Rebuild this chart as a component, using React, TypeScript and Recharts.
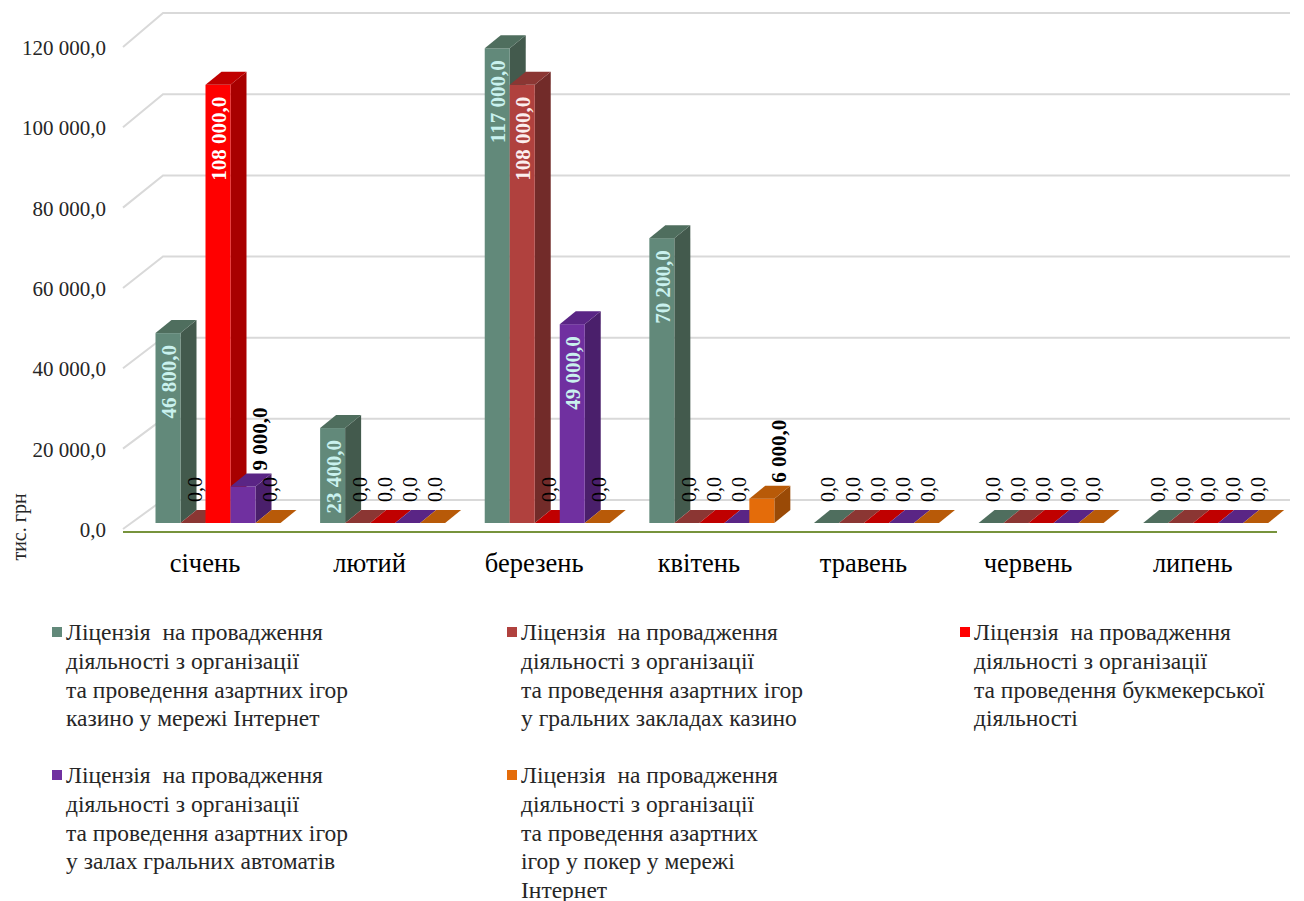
import React from 'react';
import { BarChart, Bar, XAxis, YAxis, CartesianGrid, LabelList } from 'recharts';

const months = ['січень', 'лютий', 'березень', 'квітень', 'травень', 'червень', 'липень'];

const seriesNames = [
  'Ліцензія  на провадження\nдіяльності з організації\nта проведення азартних ігор\nказино у мережі Інтернет',
  'Ліцензія  на провадження\nдіяльності з організації\nта проведення азартних ігор\nу гральних закладах казино',
  'Ліцензія  на провадження\nдіяльності з організації\nта проведення букмекерської\nдіяльності',
  'Ліцензія  на провадження\nдіяльності з організації\nта проведення азартних ігор\nу залах гральних автоматів',
  'Ліцензія  на провадження\nдіяльності з організації\nта проведення азартних\nігор у покер у мережі\nІнтернет',
];

const onlineCasino = [46800, 23400, 117000, 70200, 0, 0, 0];
const landCasino = [0, 0, 108000, 0, 0, 0, 0];
const bookmaker = [108000, 0, 0, 0, 0, 0, 0];
const slotHalls = [9000, 0, 49000, 0, 0, 0, 0];
const onlinePoker = [0, 0, 0, 6000, 0, 0, 0];

const yTicks = [0, 20000, 40000, 60000, 80000, 100000, 120000];
const yAxisTitle = 'тис. грн';

const seriesValues = [onlineCasino, landCasino, bookmaker, slotHalls, onlinePoker];

const styles = [
  { front: '#62897a', side: '#435a4d', top: '#4f6e5e', label: '#c9f1ee', legend: '#62897a' },
  { front: '#b0413e', side: '#722b29', top: '#8b3633', label: '#fbeeee', legend: '#b0413e' },
  { front: '#ff0000', side: '#a80000', top: '#c00000', label: '#ffffff', legend: '#ff0000' },
  { front: '#7030a0', side: '#4a1f6b', top: '#5a2585', label: '#c9f1ee', legend: '#7030a0' },
  { front: '#e46c0a', side: '#9a4a06', top: '#b85a08', label: '#ffffff', legend: '#e46c0a' },
];

const data = months.map((m, i) => {
  const row: Record<string, any> = { month: m };
  seriesValues.forEach((arr, s) => {
    row['s' + s] = arr[i];
  });
  return row;
});

const W = 1296;
const H = 580;
const MARGIN = { top: 28.1, right: 16, bottom: 25, left: 27.7 };
const XAXIS_H = 40;
const PLOT_BOTTOM = H - MARGIN.bottom - XAXIS_H; // 515
const DX = 16;
const DY = -13;
const SERIF = '"Times New Roman", "Liberation Serif", serif';

const fmt = (v: number) => {
  const s = Math.round(v).toString().replace(/\B(?=(\d{3})+(?!\d))/g, ' ');
  return s + ',0';
};

const labelYFor = (y: number) => PLOT_BOTTOM + 7 - (PLOT_BOTTOM - y) * 0.99;

const make3D = (s: number) => (props: any) => {
  const { x, y, width, height } = props;
  const st = styles[s];
  const h = Math.max(0, height || 0);
  return (
    <g>
      {h > 0 && (
        <polygon
          points={`${x + width},${y} ${x + width + DX},${y + DY} ${x + width + DX},${y + h + DY} ${x + width},${y + h}`}
          fill={st.side}
        />
      )}
      {h > 0 && <rect x={x} y={y} width={width} height={h} fill={st.front} />}
      <polygon
        points={`${x},${y} ${x + DX},${y + DY} ${x + width + DX},${y + DY} ${x + width},${y}`}
        fill={st.top}
      />
    </g>
  );
};

const makeLabel = (s: number) => (props: any) => {
  const { x, y, width, height, value } = props;
  const v = Number(value);
  const cx = x + width / 2;
  if (!v) {
    const ax = cx + 2;
    const ay = PLOT_BOTTOM - 21;
    return (
      <text
        x={ax}
        y={ay}
        transform={`rotate(-90 ${ax} ${ay})`}
        textAnchor="start"
        dominantBaseline="central"
        fontFamily={SERIF}
        fontSize={20}
        fill="#000"
      >
        {fmt(v)}
      </text>
    );
  }
  if (height > 50) {
    const ax = cx + 1;
    const ay = y + 12;
    return (
      <text
        x={ax}
        y={ay}
        transform={`rotate(-90 ${ax} ${ay})`}
        textAnchor="end"
        dominantBaseline="central"
        fontFamily={SERIF}
        fontWeight="bold"
        fontSize={21}
        fill={styles[s].label}
      >
        {fmt(v)}
      </text>
    );
  }
  const ax = cx + 17;
  const ay = y - 16;
  return (
    <text
      x={ax}
      y={ay}
      transform={`rotate(-90 ${ax} ${ay})`}
      textAnchor="start"
      dominantBaseline="central"
      fontFamily={SERIF}
      fontWeight="bold"
      fontSize={21}
      fill="#000"
    >
      {fmt(v)}
    </text>
  );
};

const gridLine = (props: any) => {
  const { y1 } = props;
  const y = y1;
  const ly = labelYFor(y) - 1;
  const by = y - 23;
  return (
    <g key={props.key}>
      <polyline
        points={`115,${ly} 155,${by} 1282,${by}`}
        fill="none"
        stroke="#d9d9d9"
        strokeWidth={2}
      />
    </g>
  );
};

const YTick = (props: any) => {
  const { y, payload } = props;
  return (
    <text
      x={98}
      y={labelYFor(y)}
      textAnchor="end"
      dominantBaseline="central"
      fontFamily={SERIF}
      fontSize={21}
      fill="#262626"
    >
      {fmt(payload.value)}
    </text>
  );
};

const XTick = (props: any) => {
  const { x, payload } = props;
  return (
    <text
      x={x - 13}
      y={PLOT_BOTTOM + 40}
      textAnchor="middle"
      dominantBaseline="central"
      fontFamily={SERIF}
      fontSize={26.5}
      fill="#000"
    >
      {payload.value}
    </text>
  );
};

const legendPos = [
  { left: 44, top: 610 },
  { left: 499, top: 610 },
  { left: 952, top: 610 },
  { left: 44, top: 753 },
  { left: 499, top: 753 },
];

export default function App() {
  return (
    <div style={{ position: 'relative', width: W, height: 893 }}>
      <BarChart
        width={W}
        height={H}
        data={data}
        margin={MARGIN}
        barGap={0}
        barCategoryGap={19.8}
      >
        <CartesianGrid vertical={false} horizontal={gridLine as any} />
        <XAxis
          dataKey="month"
          height={XAXIS_H}
          axisLine={false}
          tickLine={false}
          tick={<XTick />}
          interval={0}
        />
        <YAxis
          domain={[0, 120000]}
          ticks={yTicks}
          width={100}
          axisLine={false}
          tickLine={false}
          tick={<YTick />}
          interval={0}
        />
        {seriesValues.map((_, s) => (
          <Bar
            key={s}
            dataKey={'s' + s}
            name={seriesNames[s]}
            shape={make3D(s)}
            isAnimationActive={false}
          >
            <LabelList dataKey={'s' + s} content={makeLabel(s)} />
          </Bar>
        ))}
        <line x1={115} y1={PLOT_BOTTOM + 9} x2={1269} y2={PLOT_BOTTOM + 9} stroke="#77933c" strokeWidth={2} />
        <text
          x={11}
          y={519}
          transform="rotate(-90 11 519)"
          textAnchor="middle"
          dominantBaseline="central"
          fontFamily={SERIF}
          fontSize={20}
          fill="#262626"
        >
          {yAxisTitle}
        </text>
      </BarChart>
      {seriesNames.map((name, i) => (
        <div
          key={i}
          style={{
            position: 'absolute',
            left: legendPos[i].left,
            top: legendPos[i].top,
            display: 'flex',
            alignItems: 'flex-start',
            fontFamily: SERIF,
            fontSize: 23.5,
            lineHeight: '28.8px',
            color: '#262626',
          }}
        >
          <span
            style={{
              display: 'inline-block',
              width: 10,
              height: 10,
              background: styles[i].legend,
              marginTop: 9,
              marginRight: 4,
            }}
          />
          <span style={{ whiteSpace: 'pre' }}>{name}</span>
        </div>
      ))}
    </div>
  );
}
